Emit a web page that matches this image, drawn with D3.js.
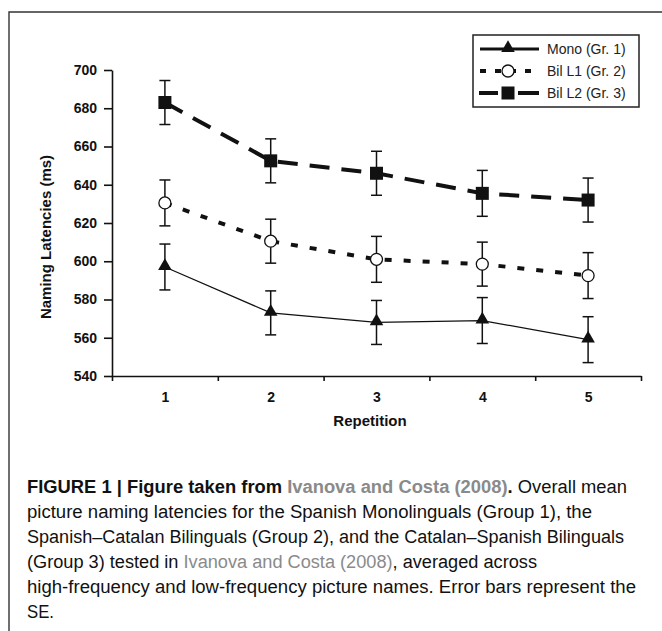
<!DOCTYPE html>
<html>
<head>
<meta charset="utf-8">
<script src="https://cdn.jsdelivr.net/npm/d3@7"></script>
<style>
  body { margin: 0; background: #fff; }
  svg { display: block; }
</style>
</head>
<body>
<div class="canvas"></div>
<script>
// data
const repetitions = [1, 2, 3, 4, 5];
const monoMeans = [597, 573, 568, 569, 559];
const monoSE = [12, 11.5, 11.5, 12, 12];
const bilL1Means = [630.5, 610.5, 601, 598.5, 592.5];
const bilL1SE = [12, 11.5, 12, 11.5, 12];
const bilL2Means = [683, 652.5, 646, 635.5, 632];
const bilL2SE = [11.5, 11.5, 11.5, 12, 11.5];
const yTicks = [540, 560, 580, 600, 620, 640, 660, 680, 700];
const seriesNames = ['Mono (Gr. 1)', 'Bil L1 (Gr. 2)', 'Bil L2 (Gr. 3)'];

const W = 662, H = 631;
const svg = d3.select('.canvas')
  .append('svg')
  .attr('width', W)
  .attr('height', H);

// frame (only top and left visible in the crop)
svg.append('path')
  .attr('d', `M9,${H} L9,12 L${W},12`)
  .attr('fill', 'none')
  .attr('stroke', '#333')
  .attr('stroke-width', 1.4);

// plot area
const margin = { left: 112, top: 70 };
const plotW = 641 - 112, plotH = 376 - 70;
const graph = svg.append('g')
  .attr('transform', `translate(${margin.left}, ${margin.top})`);

const x = d3.scaleLinear().domain([0.5, 5.5]).range([0, plotW]);
const y = d3.scaleLinear().domain([540, 700]).range([plotH, 0]);

const font = '"Liberation Sans", Arial, sans-serif';

// y axis
const yAxis = d3.axisLeft(y).tickValues(yTicks).tickSize(8).tickSizeOuter(0).tickPadding(7);
const yg = graph.append('g').call(yAxis);
yg.selectAll('text').attr('font-family', font).attr('font-size', 14).attr('font-weight', 'bold').attr('fill', '#111');

// x axis: ticks at the edges, labels centred
const xAxis = d3.axisBottom(x).tickValues(d3.range(0.5, 6, 1)).tickSize(5).tickSizeOuter(0).tickFormat('');
const xg = graph.append('g').attr('transform', `translate(0, ${plotH})`).call(xAxis);
const xLab = d3.axisBottom(x).tickValues(repetitions).tickSize(0).tickPadding(16).tickFormat(d3.format('d'));
const xlg = graph.append('g').attr('transform', `translate(0, ${plotH})`).call(xLab);
xlg.select('.domain').remove();
xlg.selectAll('text').attr('font-family', font).attr('font-size', 14).attr('font-weight', 'bold').attr('fill', '#111');

[yg, xg].forEach(g => {
  g.selectAll('path,line').attr('stroke', '#111').attr('stroke-width', 1.6);
});

// axis titles
svg.append('text')
  .attr('transform', 'translate(51, 237) rotate(-90)')
  .attr('text-anchor', 'middle')
  .attr('font-family', font).attr('font-size', 15).attr('font-weight', 'bold').attr('fill', '#111')
  .text('Naming Latencies (ms)');

svg.append('text')
  .attr('x', 370).attr('y', 426)
  .attr('text-anchor', 'middle')
  .attr('font-family', font).attr('font-size', 15).attr('font-weight', 'bold').attr('fill', '#111')
  .text('Repetition');

// series
const series = [
  { name: seriesNames[0], means: monoMeans, se: monoSE, width: 1.3, dash: null, marker: 'tri', legW: 3.2, legDash: null },
  { name: seriesNames[1], means: bilL1Means, se: bilL1SE, width: 4, dash: '7,12', marker: 'circle', legW: 4, legDash: '6,9' },
  { name: seriesNames[2], means: bilL2Means, se: bilL2SE, width: 4, dash: '20,12', marker: 'square', legW: 4, legDash: null }
];

const line = d3.line().x((d, i) => x(repetitions[i])).y(d => y(d));
const triangle = d3.symbol().type(d3.symbolTriangle).size(80);

function drawMarker(g, type, cx, cy) {
  if (type === 'tri') {
    g.append('path').attr('d', triangle()).attr('transform', `translate(${cx}, ${cy - 1})`).attr('fill', '#111');
  } else if (type === 'circle') {
    g.append('circle').attr('cx', cx).attr('cy', cy).attr('r', 6)
      .attr('fill', '#fff').attr('stroke', '#111').attr('stroke-width', 1.3);
  } else {
    g.append('rect').attr('x', cx - 6.5).attr('y', cy - 6.5).attr('width', 13).attr('height', 13).attr('fill', '#111');
  }
}

series.forEach(s => {
  graph.append('path')
    .datum(s.means)
    .attr('d', line)
    .attr('fill', 'none')
    .attr('stroke', '#111')
    .attr('stroke-width', s.width)
    .attr('stroke-dasharray', s.dash);

  // error bars
  const eb = graph.append('g').attr('stroke', '#111').attr('stroke-width', 1.5);
  s.means.forEach((m, i) => {
    const cx = x(repetitions[i]);
    const top = y(m + s.se[i]), bot = y(m - s.se[i]);
    eb.append('line').attr('x1', cx).attr('x2', cx).attr('y1', top).attr('y2', bot);
    eb.append('line').attr('x1', cx - 5.5).attr('x2', cx + 5.5).attr('y1', top).attr('y2', top);
    eb.append('line').attr('x1', cx - 5.5).attr('x2', cx + 5.5).attr('y1', bot).attr('y2', bot);
  });

  const mg = graph.append('g');
  s.means.forEach((m, i) => drawMarker(mg, s.marker, x(repetitions[i]), y(m)));
});

// legend
const legend = svg.append('g');
legend.append('rect')
  .attr('x', 473).attr('y', 35).attr('width', 166).attr('height', 72)
  .attr('fill', '#fff').attr('stroke', '#222').attr('stroke-width', 1.5);

series.forEach((s, i) => {
  const ly = 49 + i * 22;
  if (s.marker === 'square') {
    legend.append('line').attr('x1', 479).attr('x2', 498).attr('y1', ly).attr('y2', ly)
      .attr('stroke', '#111').attr('stroke-width', s.legW);
    legend.append('line').attr('x1', 518).attr('x2', 539).attr('y1', ly).attr('y2', ly)
      .attr('stroke', '#111').attr('stroke-width', s.legW);
  } else {
    legend.append('line').attr('x1', 480).attr('x2', 539).attr('y1', ly).attr('y2', ly)
      .attr('stroke', '#111').attr('stroke-width', s.legW)
      .attr('stroke-dasharray', s.legDash);
  }
  drawMarker(legend, s.marker, 508, ly);
  legend.append('text')
    .attr('x', 547).attr('y', ly + 5)
    .attr('font-family', font).attr('font-size', 14).attr('fill', '#222')
    .text(s.name);
});

// caption
const grey = '#8a8a8a';
const captionLines = [
  [['FIGURE 1 | Figure taken from ', 'b'], ['Ivanova and Costa (2008)', 'bg'], ['.', 'b'], [' Overall mean', '']],
  [['picture naming latencies for the Spanish Monolinguals (Group 1), the', '']],
  [['Spanish\u2013Catalan Bilinguals (Group 2), and the Catalan\u2013Spanish Bilinguals', '']],
  [['(Group 3) tested in ', ''], ['Ivanova and Costa (2008)', 'g'], [', averaged across', '']],
  [['high-frequency and low-frequency picture names. Error bars represent the', '']],
  [['SE.', '']]
];
// measured right ends of each caption line in the scan (the font there is condensed)
const captionEnds = [627, 592, 624, 537, 636, null];

const cap = svg.append('g').attr('font-family', font).attr('font-size', 18).attr('fill', '#111');
captionLines.forEach((parts, i) => {
  const t = cap.append('text').attr('x', 27).attr('y', 493 + i * 25).attr('xml:space', 'preserve');
  parts.forEach(([str, st]) => {
    t.append('tspan')
      .attr('font-weight', st.includes('b') ? 'bold' : null)
      .attr('fill', st.includes('g') ? grey : null)
      .text(str);
  });
  const natural = t.node().getComputedTextLength();
  const target = captionEnds[i] ? captionEnds[i] - 27 : natural * 0.93;
  if (natural > 0) {
    t.attr('textLength', target).attr('lengthAdjust', 'spacingAndGlyphs');
  }
});
</script>
</body>
</html>
